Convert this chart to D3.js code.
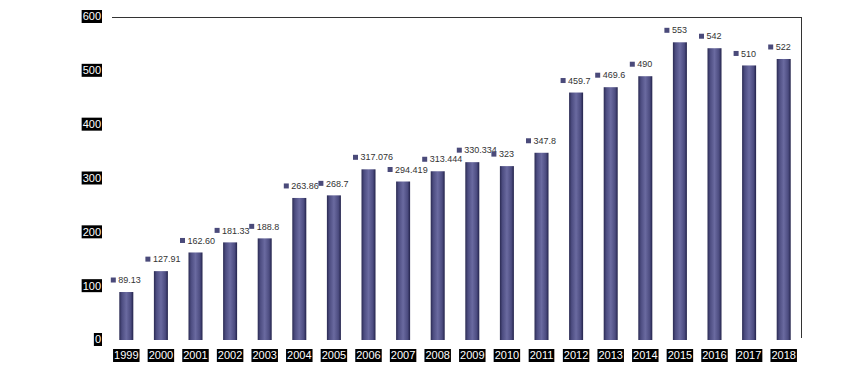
<!DOCTYPE html>
<html>
<head>
<meta charset="utf-8">
<script src="https://cdn.jsdelivr.net/npm/d3@7"></script>
<style>
  html, body { margin: 0; padding: 0; background: #ffffff; }
  svg { display: block; }
</style>
</head>
<body>
<svg id="chart" width="859" height="380"></svg>
<script>
const years = ["1999","2000","2001","2002","2003","2004","2005","2006","2007","2008","2009","2010","2011","2012","2013","2014","2015","2016","2017","2018"];
const values = [89.13,127.91,162.60,181.33,188.8,263.86,268.7,317.076,294.419,313.444,330.334,323,347.8,459.7,469.6,490,553,542,510,522];
const valueLabels = ["89.13","127.91","162.60","181.33","188.8","263.86","268.7","317.076","294.419","313.444","330.334","323","347.8","459.7","469.6","490","553","542","510","522"];
const yTicks = [0,100,200,300,400,500,600];

(function () {
const svg = d3.select("#chart");
const plotLeft = 109, plotRight = 801, plotTop = 17, plotBottom = 340;

const x = d3.scaleBand().domain(years).range([plotLeft, plotRight]).paddingInner(0).paddingOuter(0);
const y = d3.scaleLinear().domain([0, 600]).range([plotBottom, plotTop]);

const defs = svg.append("defs");
const grad = defs.append("linearGradient").attr("id", "barGrad").attr("x1", "0%").attr("x2", "100%").attr("y1", "0%").attr("y2", "0%");
[["0%","#2a2a52"],["18%","#4c4c80"],["50%","#6a6aa0"],["82%","#4c4c80"],["100%","#22224a"]].forEach(s => grad.append("stop").attr("offset", s[0]).attr("stop-color", s[1]));

// frame lines (top and right)
svg.append("line").attr("x1", 112).attr("x2", plotRight).attr("y1", plotTop + 0.5).attr("y2", plotTop + 0.5).attr("stroke", "#333").attr("stroke-width", 1);
svg.append("line").attr("x1", plotRight + 0.5).attr("x2", plotRight + 0.5).attr("y1", plotTop).attr("y2", plotBottom - 2).attr("stroke", "#333").attr("stroke-width", 1);

const barW = 14;
svg.selectAll("rect.bar").data(years).enter().append("rect")
  .attr("class", "bar")
  .attr("x", (d) => x(d) + x.bandwidth() / 2 - barW / 2)
  .attr("width", barW)
  .attr("y", (d, i) => y(values[i]))
  .attr("height", (d, i) => y(0) - y(values[i]))
  .attr("fill", "url(#barGrad)");

const vl = svg.selectAll("g.vl").data(years).enter().append("g")
  .attr("class", "vl")
  .attr("transform", (d, i) => `translate(${x(d) + x.bandwidth() / 2 - 13},${y(values[i]) - 12})`);
vl.append("rect").attr("x", -2.5).attr("y", -2.5).attr("width", 5).attr("height", 5).attr("fill", "#4a4a7a");
vl.append("text").attr("x", 5).attr("y", 0).attr("dy", "0.35em")
  .attr("font-family", "Liberation Sans, Arial, sans-serif").attr("font-size", 9).attr("fill", "#333")
  .text((d, i) => valueLabels[i]);

function boxedLabel(g, text, cx, cy, anchor) {
  const t = g.append("text")
    .attr("font-family", "Liberation Sans, Arial, sans-serif").attr("font-size", 11)
    .attr("fill", "#ffffff").attr("dy", "0.36em")
    .attr("text-anchor", anchor).attr("x", cx).attr("y", cy).text(text);
  const b = t.node().getBBox();
  g.insert("rect", "text").attr("x", b.x - 1).attr("y", cy - 6.5).attr("width", b.width + 2).attr("height", 13).attr("fill", "#000");
}

const fmt = y.tickFormat(7, "d");
const yAxis = svg.append("g");
yTicks.forEach(v => {
  boxedLabel(yAxis.append("g"), fmt(v), 101, y(v) - 0.5, "end");
});

const xAxis = svg.append("g");
years.forEach(yr => {
  boxedLabel(xAxis.append("g"), yr, x(yr) + x.bandwidth() / 2, 355.5, "middle");
});
})();
</script>
</body>
</html>
